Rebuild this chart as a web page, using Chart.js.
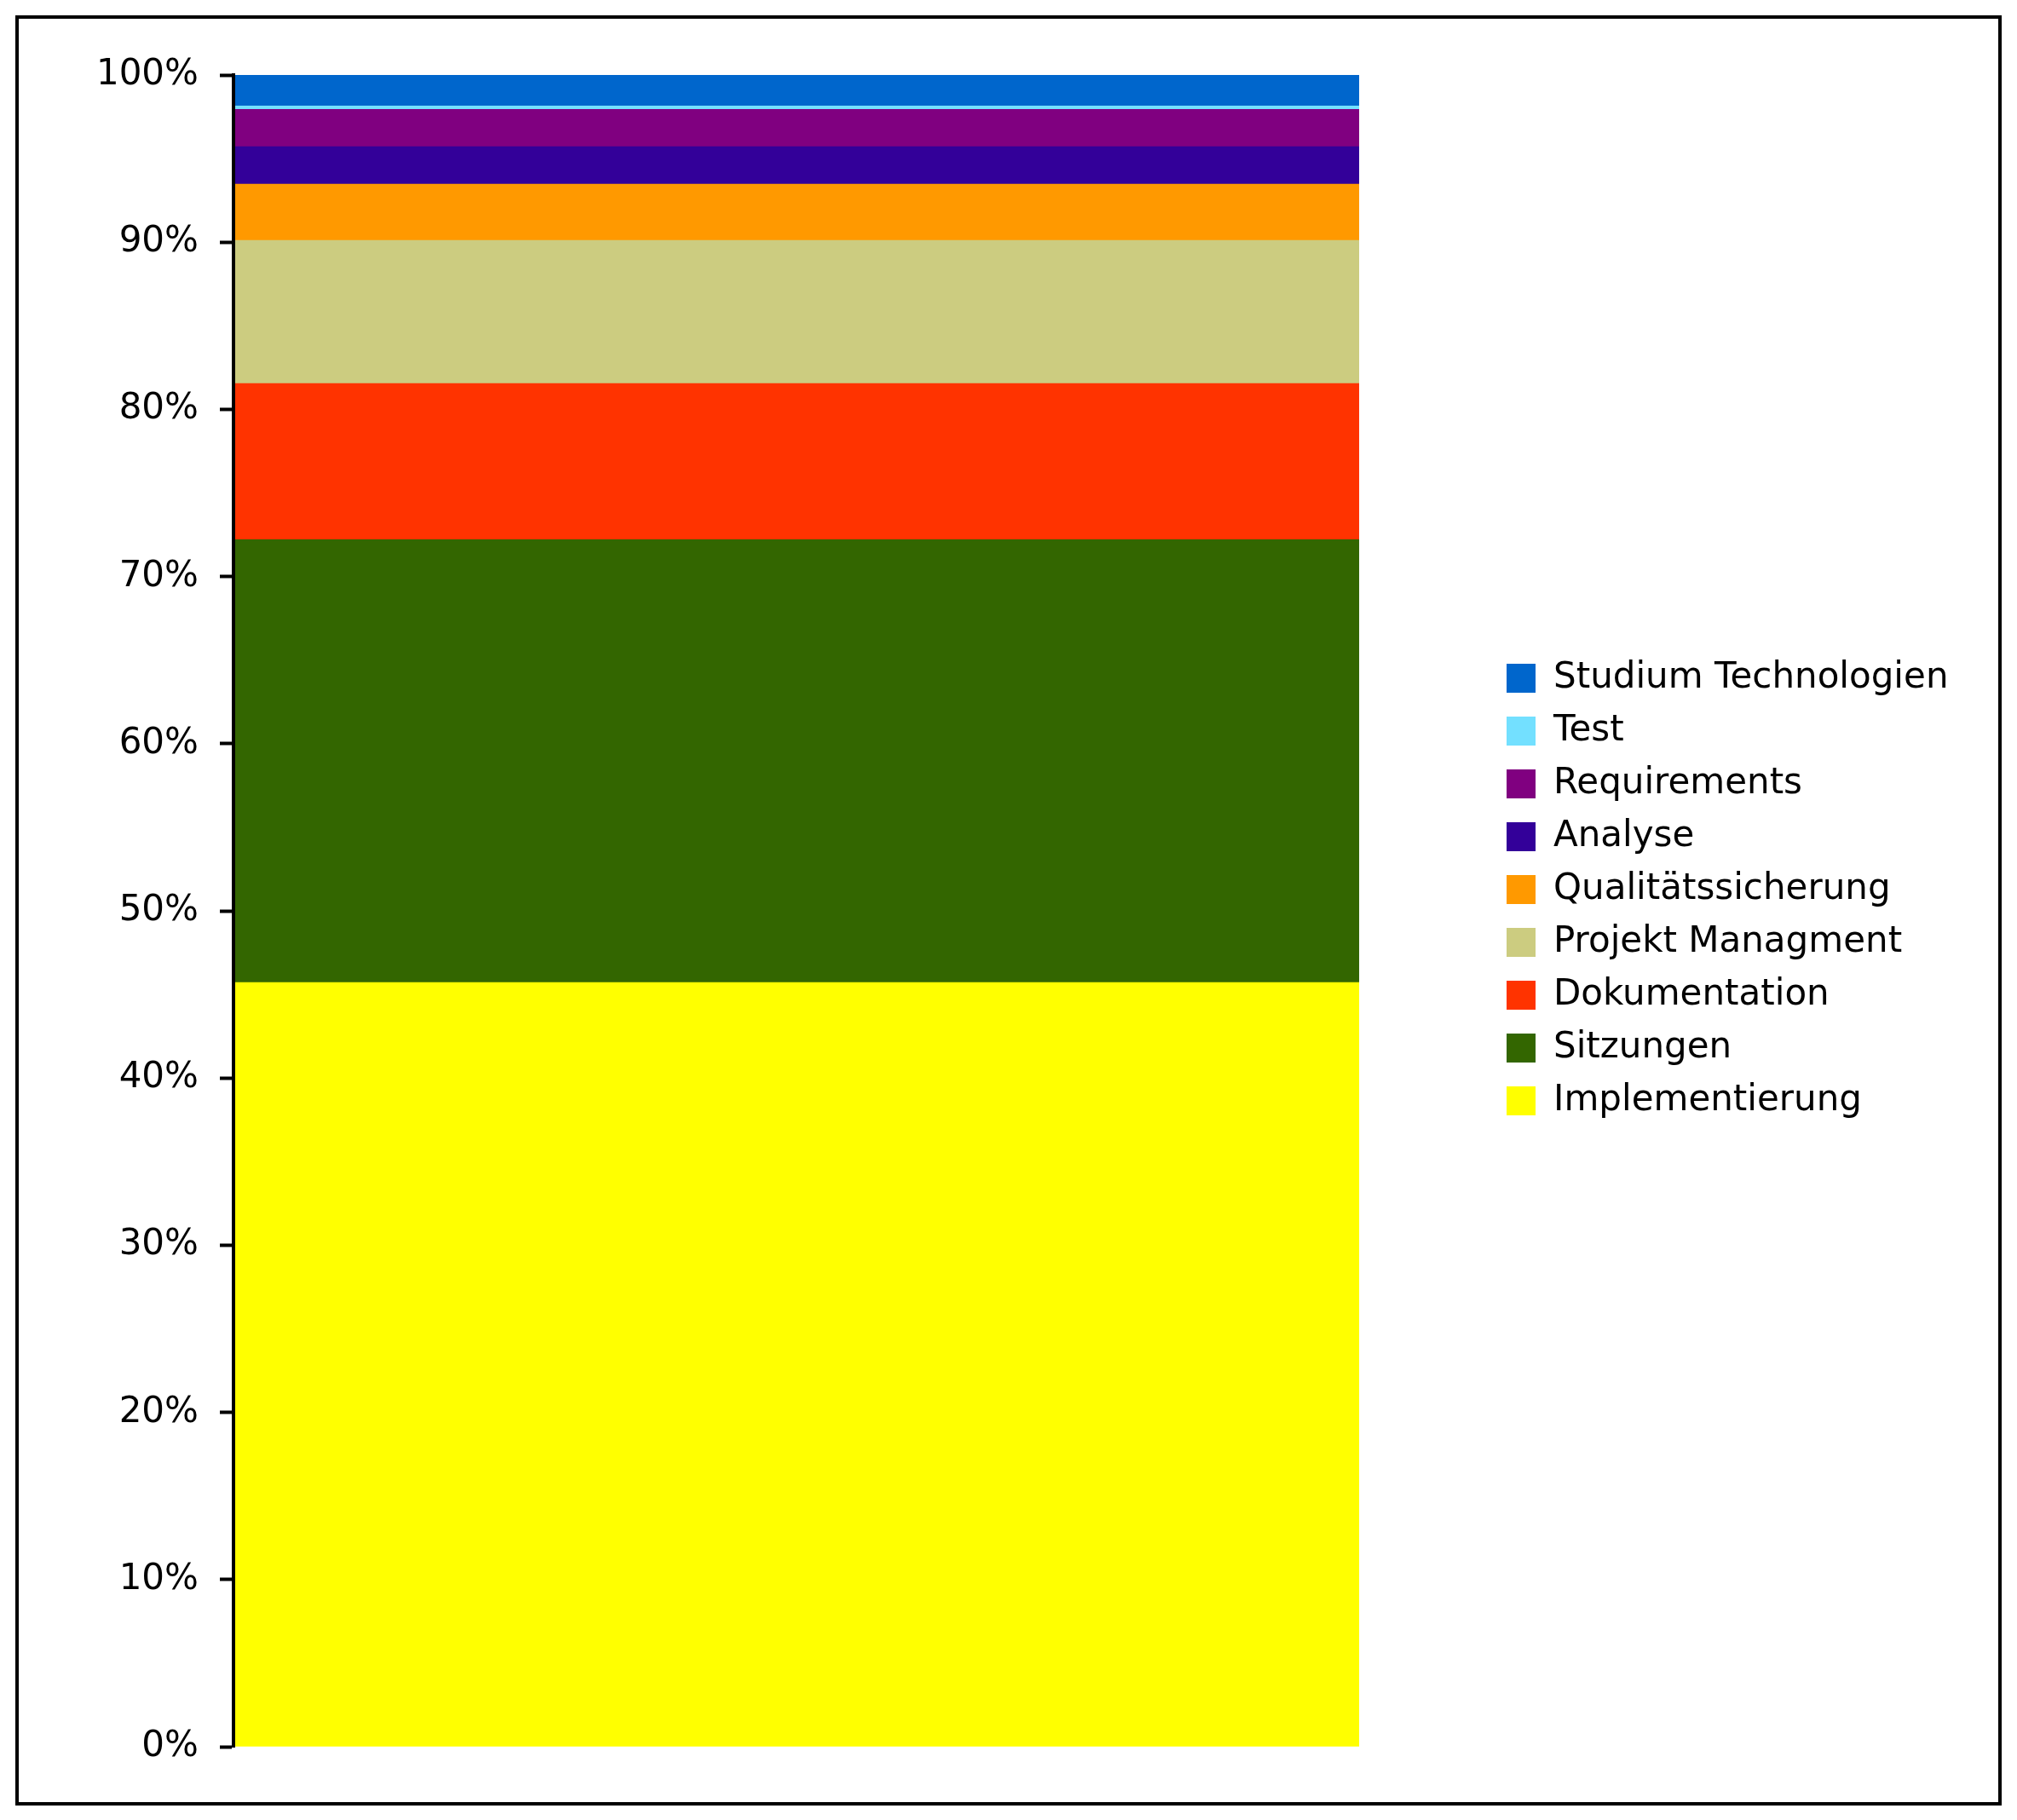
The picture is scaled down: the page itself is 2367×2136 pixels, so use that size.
<!DOCTYPE html>
<html>
<head>
<meta charset="utf-8">
<script src="https://cdn.jsdelivr.net/npm/chart.js@4/dist/chart.umd.min.js"></script>
<style>
  html, body { margin: 0; padding: 0; background: #fff; }
  canvas { display: block; }
</style>
</head>
<body>
<canvas id="c" width="2367" height="2136" style="width:2367px;height:2136px"></canvas>
<script>
// ---- data (percent of total effort) ----
const categories = ['Aufwand'];
const seriesNames = [
  'Implementierung', 'Sitzungen', 'Dokumentation', 'Projekt Managment',
  'Qualitätssicherung', 'Analyse', 'Requirements', 'Test', 'Studium Technologien'
];
const seriesValues = [45.72, 26.49, 9.34, 8.56, 3.36, 2.24, 2.24, 0.20, 1.85];
const seriesColors = ['#FFFF00', '#336600', '#FF3300', '#CCCC80', '#FF9900', '#330099', '#800080', '#73E0FF', '#0066CC'];
const tickValues = [0, 10, 20, 30, 40, 50, 60, 70, 80, 90, 100];

const FONT = '"DejaVu Sans", Verdana, sans-serif';

const frame = {
  id: 'frame',
  afterDraw(chart) {
    const ctx = chart.ctx;
    ctx.save();
    ctx.strokeStyle = '#000';
    ctx.lineWidth = 4;
    ctx.strokeRect(20, 20, 2327, 2097);
    ctx.restore();
  }
};

const placeLegend = {
  id: 'placeLegend',
  afterLayout(chart) {
    const lg = chart.legend;
    if (!lg) return;
    const w = lg.width, h = lg.height;
    lg.left = 1748; lg.right = 1748 + w;
    lg.top = 755; lg.bottom = 755 + h;
  }
};

new Chart(document.getElementById('c'), {
  type: 'bar',
  data: {
    labels: categories,
    datasets: seriesNames.map((name, i) => ({
      label: name,
      data: [seriesValues[i]],
      backgroundColor: seriesColors[i],
      borderWidth: 0,
      categoryPercentage: 1,
      barPercentage: 1
    }))
  },
  options: {
    responsive: false,
    animation: false,
    devicePixelRatio: 1,
    layout: { padding: { left: 0, top: 88, bottom: 86, right: 772 } },
    scales: {
      x: { stacked: true, display: false },
      y: {
        stacked: true,
        min: 0,
        max: 100,
        afterFit(scale) { scale.width = 274; },
        afterBuildTicks(scale) { scale.ticks = tickValues.map(v => ({ value: v })); },
        ticks: {
          callback: v => v + '%',
          color: '#000',
          font: { family: FONT, size: 42 },
          padding: 25
        },
        grid: {
          display: true,
          drawOnChartArea: false,
          drawTicks: true,
          tickLength: 16,
          tickWidth: 4,
          tickColor: '#000'
        },
        border: { display: true, color: '#000', width: 4, z: 1 }
      }
    },
    plugins: {
      legend: {
        position: 'chartArea',
        align: 'start',
        reverse: true,
        labels: {
          boxWidth: 34,
          boxHeight: 34,
          padding: 20,
          color: '#000',
          font: { family: FONT, size: 42 }
        }
      },
      tooltip: { enabled: false }
    }
  },
  plugins: [placeLegend, frame]
});
</script>
</body>
</html>
